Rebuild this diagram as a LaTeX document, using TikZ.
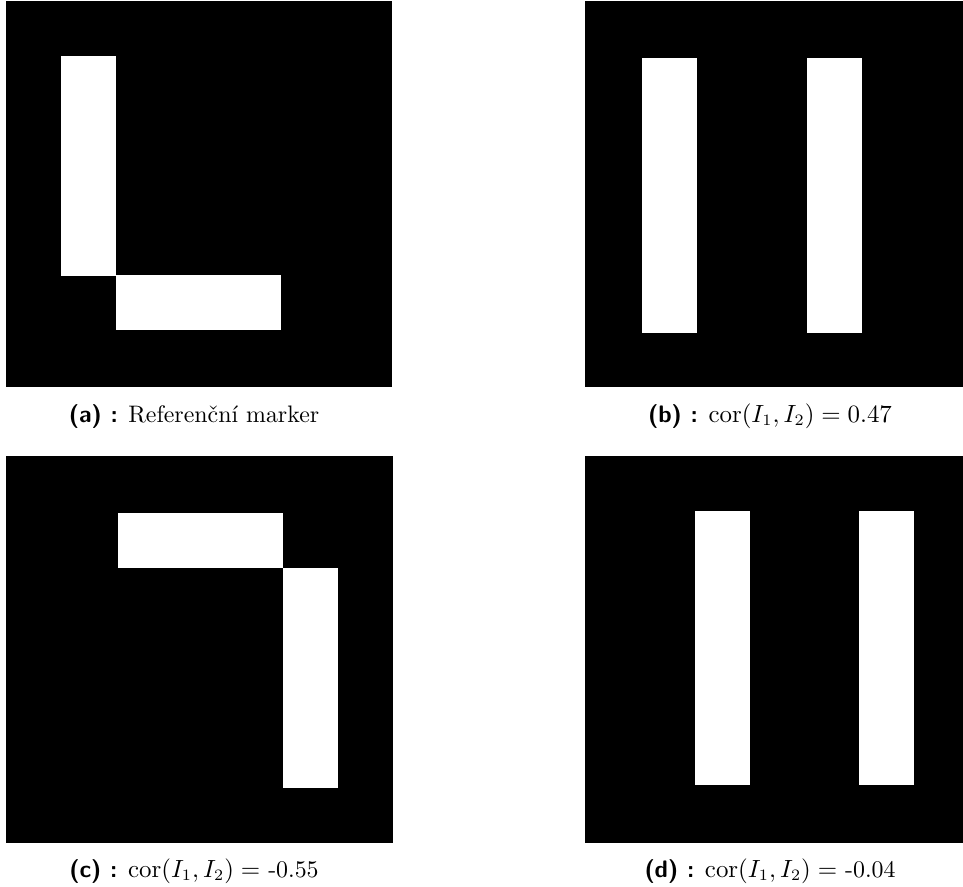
\documentclass[tikz,border=0pt]{standalone}
\begin{document}
\begin{tikzpicture}[x=0.44pt,y=-0.44pt,
  panel/.style={fill=black},
  cell/.style={fill=white},
  caption/.style={anchor=base,inner sep=0pt,font=\fontsize{10.5}{12.6}\selectfont}]
\useasboundingbox (0,0) rectangle (963,886);
% panel (a)
\fill[panel] (6,1) rectangle (392,387);
\fill[cell] (61,56) rectangle (116,276);
\fill[cell] (116,275) rectangle (281,330);
% panel (b)
\fill[panel] (585,1) rectangle (963,387);
\fill[cell] (642,58) rectangle (697,333);
\fill[cell] (807,58) rectangle (862,333);
% panel (c)
\fill[panel] (6,456) rectangle (393,843);
\fill[cell] (118,513) rectangle (283,568);
\fill[cell] (283,568) rectangle (338,788);
% panel (d)
\fill[panel] (585,456) rectangle (963,843);
\fill[cell] (695,511) rectangle (750,785);
\fill[cell] (859,511) rectangle (914,785);
% captions
\node[caption] (capa) at (194,422) {\textsf{\textbf{(a) :}} Referenční marker};
\node[caption] (capb) at (770,422) {\textsf{\textbf{(b) :}} $\mathrm{cor}(I_1, I_2) = 0.47$};
\node[caption] (capc) at (194,877) {\textsf{\textbf{(c) :}} $\mathrm{cor}(I_1, I_2) =$ -0.55};
\node[caption] (capd) at (770,877) {\textsf{\textbf{(d) :}} $\mathrm{cor}(I_1, I_2) =$ -0.04};
\end{tikzpicture}
\end{document}
